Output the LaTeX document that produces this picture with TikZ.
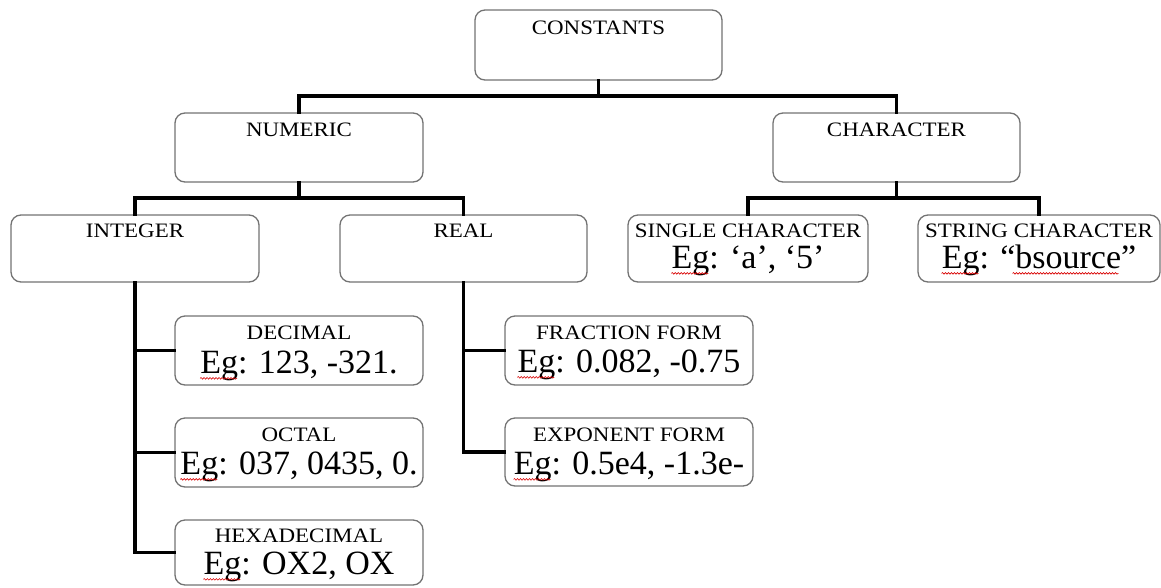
\documentclass[tikz,border=0pt]{standalone}
\usepackage{fontspec}
\setmainfont{Liberation Serif}
\newfontfamily\headfont[FakeStretch=1.12]{Liberation Serif}
\usetikzlibrary{decorations.pathmorphing}

\tikzset{
  box/.style={draw=black!55, line width=1.3pt, rounded corners=10pt, fill=white,
              minimum width=248pt, minimum height=69pt, inner sep=0pt},
  headtxt/.style={anchor=base, inner sep=0pt, font=\headfont\fontsize{20.5}{22}\selectfont},
  egtxt/.style={anchor=base, inner sep=0pt, font=\fontsize{34}{36}\selectfont},
  conn/.style={draw=black, line width=3.4pt, line join=miter, line cap=rect},
  spell/.style={draw=red!85!black, line width=0.6pt,
                decorate, decoration={snake, amplitude=0.8pt, segment length=3pt}}
}

\begin{document}
\begin{tikzpicture}[x=1pt, y=-1pt]
\useasboundingbox (0,0) rectangle (1161,587);

% --- boxes -------------------------------------------------------------
\node[box, minimum width=247pt, minimum height=70pt] (con) at (598.5,45) {};
\node[box] (num) at (299,147.5) {};
\node[box, minimum width=247pt] (chr) at (896.5,147.5) {};
\node[box, minimum height=67pt] (int) at (135,248.5) {};
\node[box, minimum width=247pt, minimum height=67pt] (rea) at (463.5,248.5) {};
\node[box, minimum width=240pt, minimum height=67pt] (sgl) at (748,248.5) {};
\node[box, minimum width=242pt, minimum height=67pt] (str) at (1039,248.5) {};
\node[box] (dec) at (299,350.5) {};
\node[box] (oct) at (299,452.5) {};
\node[box, minimum height=65pt] (hex) at (299,552.5) {};
\node[box] (frc) at (629,350.5) {};
\node[box, minimum height=68pt] (exf) at (629,452) {};

% --- headings and examples ---------------------------------------------
\node[headtxt] (conT) at ([yshift=-25pt]con.north) {CONSTANTS};
\node[headtxt] (numT) at ([yshift=-24pt]num.north) {NUMERIC};
\node[headtxt] (chrT) at ([yshift=-24pt]chr.north) {CHARACTER};
\node[headtxt] (intT) at ([yshift=-23pt]int.north) {INTEGER};
\node[headtxt] (reaT) at ([yshift=-23pt]rea.north) {REAL};

\node[headtxt] (sglT) at ([yshift=-23pt]sgl.north) {SINGLE CHARACTER};
\node[egtxt]   (sglE) at ([yshift=-54pt]sgl.north) {Eg: ‘a’, ‘5’};
\node[headtxt] (strT) at ([yshift=-23pt]str.north) {STRING CHARACTER};
\node[egtxt]   (strE) at ([yshift=-54pt]str.north) {Eg: “bsource”};

\node[headtxt] (decT) at ([yshift=-24pt]dec.north) {DECIMAL};
\node[egtxt]   (decE) at ([yshift=-58pt]dec.north) {Eg: 123, -321.};
\node[headtxt] (octT) at ([yshift=-24pt]oct.north) {OCTAL};
\node[egtxt]   (octE) at ([yshift=-57pt]oct.north) {Eg: 037, 0435, 0.};
\node[headtxt] (hexT) at ([yshift=-23pt]hex.north) {HEXADECIMAL};
\node[egtxt]   (hexE) at ([yshift=-55pt]hex.north) {Eg: OX2, OX};
\node[headtxt] (frcT) at ([yshift=-24pt]frc.north) {FRACTION FORM};
\node[egtxt]   (frcE) at ([yshift=-57pt]frc.north) {Eg: 0.082, -0.75};
\node[headtxt] (exfT) at ([yshift=-24pt]exf.north) {EXPONENT FORM};
\node[egtxt]   (exfE) at ([yshift=-57pt]exf.north) {Eg: 0.5e4, -1.3e-};

% --- spell-check squiggles ---------------------------------------------
\foreach \n in {sglE,strE,decE,octE,hexE,frcE,exfE}
  \draw[spell] ([yshift=-5pt]\n.base west) -- ++(37pt,0);
\draw[spell] ([xshift=71pt,yshift=-5pt]strE.base west) -- ++(106pt,0);

% --- tree connectors ---------------------------------------------------
\coordinate (j1) at (598.5,96);
\coordinate (j2) at (299,198);
\coordinate (j3) at (896.5,198);
\draw[conn] (con.south) -- (j1);
\draw[conn] (num.north) |- (j1) -| (chr.north);
\draw[conn] (num.south) -- (j2);
\draw[conn] (int.north) |- (j2) -| (rea.north);
\draw[conn] (chr.south) -- (j3);
\draw[conn] (sgl.north) |- (j3) -| (str.north);

\draw[conn] (int.south) |- (hex.west);
\draw[conn] (dec.west) -- (dec.west -| int.south);
\draw[conn] (oct.west) -- (oct.west -| int.south);
\draw[conn] (rea.south) |- (exf.west);
\draw[conn] (frc.west) -- (frc.west -| rea.south);
\end{tikzpicture}
\end{document}
